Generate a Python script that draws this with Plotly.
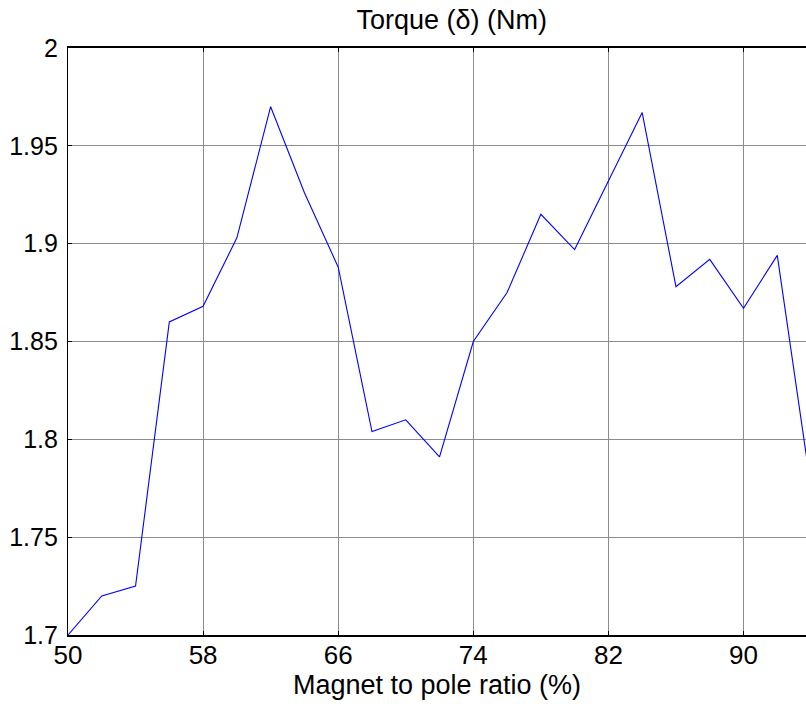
import plotly.graph_objects as go

# Magnet-to-pole ratio sweep (%) and resulting torque (Nm)
ratio = [50, 52, 54, 56, 58, 60, 62, 64, 66, 68, 70, 72,
         74, 76, 78, 80, 82, 84, 86, 88, 90, 92, 94]
torque = [1.700, 1.720, 1.725, 1.860, 1.868, 1.903, 1.970, 1.926, 1.888, 1.804, 1.810, 1.791,
          1.850, 1.875, 1.915, 1.897, 1.932, 1.967, 1.878, 1.892, 1.867, 1.894, 1.775]

x_ticks = [50, 58, 66, 74, 82, 90]
y_ticks = [1.7, 1.75, 1.8, 1.85, 1.9, 1.95, 2.0]
y_tick_text = ["1.7", "1.75", "1.8", "1.85", "1.9", "1.95", "2"]

FONT = "Liberation Sans, Arial, sans-serif"

fig = go.Figure(
    go.Scatter(
        x=ratio,
        y=torque,
        mode="lines",
        line=dict(color="#0000ff", width=1.1),
        hoverinfo="x+y",
    )
)

fig.update_layout(
    width=806,
    height=704,
    margin=dict(l=68, r=0, t=48, b=69),
    paper_bgcolor="white",
    plot_bgcolor="white",
    showlegend=False,
    font=dict(family=FONT, color="black", size=25),
    title=dict(
        text="Torque (δ) (Nm)",
        font=dict(family=FONT, size=27, color="black"),
        x=0.52,
        xanchor="center",
        xref="paper",
        y=0.972,
        yanchor="middle",
        yref="container",
    ),
)

fig.update_xaxes(
    range=[50, 93.7],
    tickvals=x_ticks,
    ticktext=[str(v) for v in x_ticks],
    ticks="inside",
    ticklen=4,
    tickwidth=1,
    tickcolor="black",
    showline=True,
    linecolor="black",
    linewidth=2,
    mirror="allticks",
    showgrid=True,
    gridcolor="#8c8c8c",
    gridwidth=1,
    zeroline=False,
    tickfont=dict(family=FONT, size=26, color="black"),
    ticklabelstandoff=-4,
    title=dict(
        text="Magnet to pole ratio (%)",
        font=dict(family=FONT, size=27, color="black"),
        standoff=0,
    ),
)

fig.update_yaxes(
    range=[1.7, 2.0],
    tickvals=y_ticks,
    ticktext=y_tick_text,
    ticks="inside",
    ticklen=4,
    tickwidth=1,
    tickcolor="black",
    showline=True,
    linecolor="black",
    linewidth=1.2,
    mirror=False,
    showgrid=True,
    gridcolor="#8c8c8c",
    gridwidth=1,
    zeroline=False,
    tickfont=dict(family=FONT, size=25, color="black"),
    ticklabelstandoff=4,
)

fig.write_html("out.html")
